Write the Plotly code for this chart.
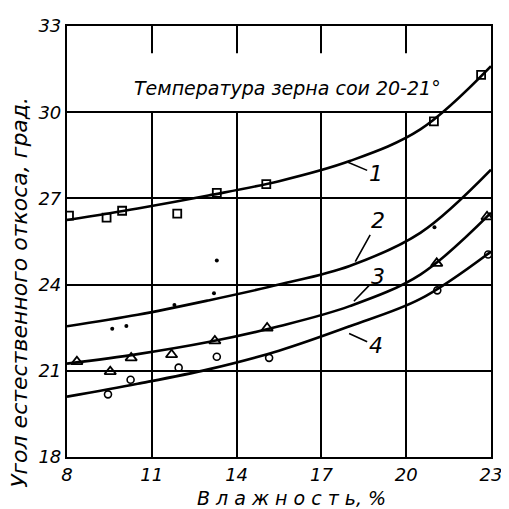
import plotly.graph_objects as go

# Fitted curves
curve_x = [8, 10.5, 13, 15.5, 18, 20.5, 23]
curve1 = [26.25, 26.65, 27.1, 27.6, 28.3, 29.4, 31.6]
curve2 = [22.55, 22.95, 23.45, 24.0, 24.65, 25.8, 28.0]
curve3 = [21.25, 21.58, 22.0, 22.55, 23.25, 24.35, 26.5]
curve4 = [20.1, 20.55, 21.05, 21.7, 22.55, 23.5, 25.15]

# Experimental points
sq_x = [8.07, 9.4, 9.95, 11.9, 13.3, 15.05, 20.98, 22.65]
sq_y = [26.4, 26.33, 26.57, 26.47, 27.19, 27.5, 29.68, 31.3]
dot_x = [9.6, 10.1, 11.8, 13.2, 13.3, 21.0]
dot_y = [22.46, 22.56, 23.29, 23.7, 24.84, 26.0]
tri_x = [8.35, 9.53, 10.27, 11.7, 13.23, 15.08, 21.08, 22.86]
tri_y = [21.32, 20.97, 21.45, 21.56, 22.04, 22.49, 24.74, 26.36]
cir_x = [9.45, 10.25, 11.95, 13.3, 15.15, 21.1, 22.9]
cir_y = [20.18, 20.69, 21.11, 21.49, 21.45, 23.8, 25.05]

x_ticks = [8, 11, 14, 17, 20, 23]
y_ticks = [18, 21, 24, 27, 30, 33]

curve_labels = ["1", "2", "3", "4"]
label_x = [18.92, 19.0, 19.0, 18.92]
label_y = [27.85, 26.22, 24.29, 21.87]
leader_x = [17.94, 18.2, 18.15, 17.98]
leader_y = [28.26, 24.8, 23.42, 22.3]

font_family = "DejaVu Sans"

fig = go.Figure()
for cy in [curve1, curve2, curve3, curve4]:
    fig.add_trace(go.Scatter(x=curve_x, y=cy, mode="lines",
                             line=dict(color="black", width=2.6, shape="spline", smoothing=1.0),
                             hoverinfo="skip"))

fig.add_trace(go.Scatter(x=sq_x, y=sq_y, mode="markers",
                         marker=dict(symbol="square-open", size=8, color="black",
                                     line=dict(width=1.8))))
fig.add_trace(go.Scatter(x=dot_x, y=dot_y, mode="markers",
                         marker=dict(symbol="circle", size=4, color="black")))
fig.add_trace(go.Scatter(x=tri_x, y=tri_y, mode="markers",
                         marker=dict(symbol="triangle-up-open", size=10, color="black",
                                     line=dict(width=1.8))))
fig.add_trace(go.Scatter(x=cir_x, y=cir_y, mode="markers",
                         marker=dict(symbol="circle-open", size=7, color="black",
                                     line=dict(width=1.6))))

# white band hiding vertical grid between 30 and ~32 (grid only as short ticks at top)
fig.add_shape(type="rect", xref="x", yref="y", x0=8.06, x1=22.94, y0=30.04, y1=32.05,
              fillcolor="white", line=dict(width=0), layer="between")

for t, lx, ly, px, py in zip(curve_labels, label_x, label_y, leader_x, leader_y):
    fig.add_annotation(x=px, y=py, ax=lx, ay=ly, axref="x", ayref="y",
                       text=t, showarrow=True, arrowhead=0, arrowwidth=1.6,
                       arrowcolor="black", standoff=0,
                       font=dict(family=font_family, size=22, color="black", style="italic"))

fig.add_annotation(x=15.8, y=30.83, xref="x", yref="y", text="Температура зерна сои 20-21°",
                   showarrow=False,
                   font=dict(family=font_family, size=19, color="black", style="italic"))

fig.add_annotation(x=-0.111, y=0.383, xref="paper", yref="paper",
                   xanchor="center", yanchor="middle",
                   text="Угол естественного откоса, град.", textangle=-90, showarrow=False,
                   font=dict(family=font_family, size=22, color="black", style="italic"))
fig.add_annotation(x=0.53, y=-0.095, xref="paper", yref="paper",
                   xanchor="center", yanchor="middle",
                   text="В л а ж н о с т ь, %", showarrow=False,
                   font=dict(family=font_family, size=19, color="black", style="italic"))

axis_common = dict(showline=True, linecolor="black", linewidth=2.2, mirror=True,
                   showgrid=True, gridcolor="black", gridwidth=1.8, zeroline=False,
                   automargin=False,
                   ticks="", tickfont=dict(family=font_family, size=18, color="black",
                                           style="italic"))
fig.update_xaxes(range=[8, 23], tickvals=x_ticks, ticktext=[str(v) for v in x_ticks],
                 **axis_common)
fig.update_yaxes(range=[18, 33], tickvals=y_ticks, ticktext=[str(v) for v in y_ticks],
                 **axis_common)

fig.update_layout(width=501, height=501, margin=dict(l=59, r=18, t=18, b=52),
                  paper_bgcolor="white", plot_bgcolor="white", showlegend=False)

fig.write_html("out.html")
